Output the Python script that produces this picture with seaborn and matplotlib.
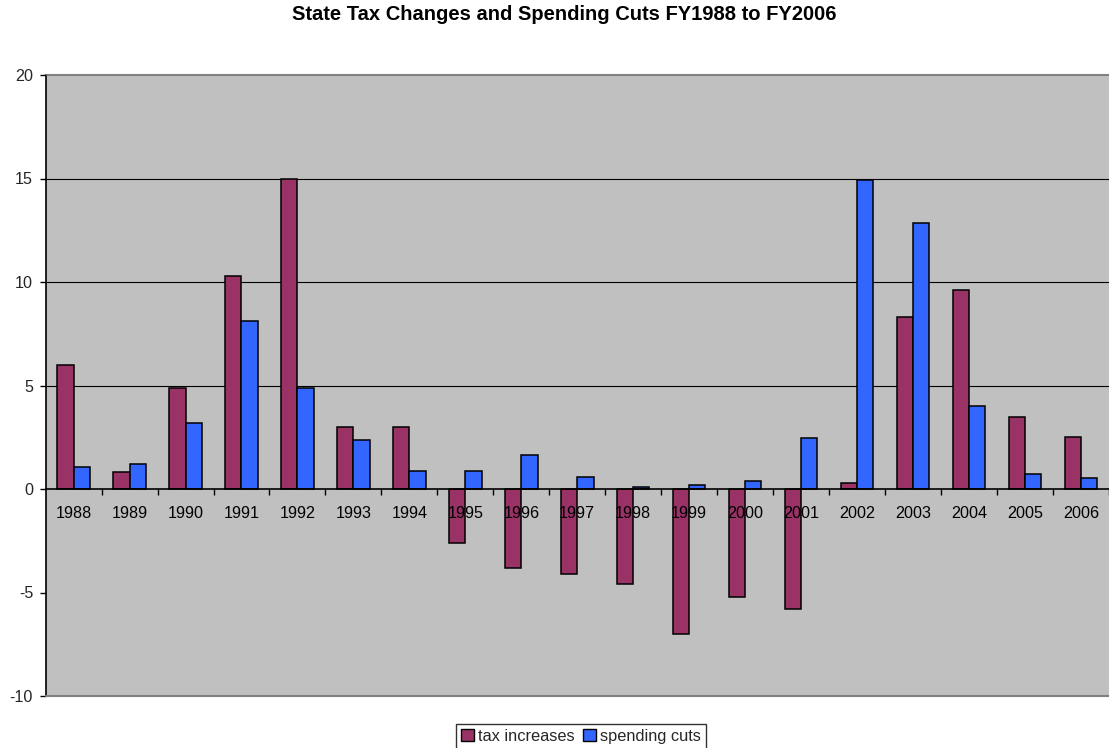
import matplotlib
matplotlib.use("Agg")
import matplotlib.pyplot as plt
from matplotlib.patches import Patch
from matplotlib.ticker import MultipleLocator
import seaborn as sns
import pandas as pd

years = [str(y) for y in range(1988, 2007)]
tax_increases = [6.0, 0.8, 4.9, 10.3, 15.0, 3.0, 3.0, -2.6, -3.8, -4.1,
                 -4.6, -7.0, -5.2, -5.8, 0.3, 8.3, 9.6, 3.5, 2.5]
spending_cuts = [1.05, 1.2, 3.2, 8.1, 4.9, 2.35, 0.88, 0.85, 1.65, 0.57,
                 0.08, 0.2, 0.37, 2.45, 14.95, 12.85, 4.0, 0.72, 0.52]
series_names = ["tax increases", "spending cuts"]
colors = ["#993366", "#3366FF"]
title = "State Tax Changes and Spending Cuts FY1988 to FY2006"

df = pd.DataFrame({
    "year": years * 2,
    "value": tax_increases + spending_cuts,
    "series": [series_names[0]] * len(years) + [series_names[1]] * len(years),
})

sns.set_style("white")
plt.rcParams["font.family"] = ["Liberation Sans", "DejaVu Sans"]
plt.rcParams["axes.unicode_minus"] = False

W, H = 1109, 748
fig = plt.figure(figsize=(W / 100, H / 100), dpi=100)
left_px, top_px, bottom_px = 45.6, 75, 696
ax = fig.add_axes([left_px / W, (H - bottom_px) / H,
                   (W - left_px) / W, (bottom_px - top_px) / H])
ax.set_facecolor("#C0C0C0")

sns.barplot(data=df, x="year", y="value", hue="series", order=years,
            hue_order=series_names, palette=colors, width=0.58,
            saturation=1, edgecolor="black", linewidth=1.1,
            legend=False, ax=ax, zorder=2)

ax.set_axisbelow(False)

cat_px = 56.5
ax.set_xlim(-0.5, -0.5 + (W - left_px) / cat_px)
ax.set_ylim(-10, 20)
ax.yaxis.set_major_locator(MultipleLocator(5))

for yv in [5, 10, 15]:
    ax.axhline(yv, color="black", lw=0.8, zorder=1)
ax.axhline(-10, color="#808080", lw=1.5, zorder=3, clip_on=False)

# spines
ax.spines["right"].set_visible(False)
ax.spines["top"].set_color("#808080")
ax.spines["top"].set_linewidth(1.5)
ax.spines["left"].set_color("black")
ax.spines["left"].set_linewidth(1.2)
ax.spines["bottom"].set_position(("data", 0))
ax.spines["bottom"].set_color("black")
ax.spines["bottom"].set_linewidth(1.2)

ax.set_xticks(range(len(years)))
ax.set_xticklabels(years)
ax.set_xticks([i + 0.5 for i in range(len(years))], minor=True)
ax.tick_params(axis="x", which="major", length=0, pad=12.5,
               labelsize=11.6, labelcolor="black", bottom=True)
ax.tick_params(axis="x", which="minor", length=4, width=1.0,
               direction="out", color="black", bottom=True)
ax.tick_params(axis="y", which="major", length=4, width=1.0,
               direction="out", color="black", pad=5, labelsize=11.6,
               left=True)
ax.set_xlabel("")
ax.set_ylabel("")

fig.text(564 / W, 1 - 15 / H, title, ha="center", va="center",
         fontsize=14.5, fontweight="bold", color="black")

handles = [Patch(facecolor=c, edgecolor="black", linewidth=1.0) for c in colors]
leg = fig.legend(handles, series_names, loc="upper center",
                 bbox_to_anchor=(581 / W, 1 - 724 / H), ncol=2,
                 fontsize=11.8, frameon=True, fancybox=False,
                 edgecolor="black", borderpad=0.3, handlelength=0.8,
                 handleheight=0.8, handletextpad=0.25, columnspacing=0.5,
                 borderaxespad=0)
leg.get_frame().set_linewidth(1.0)

fig.savefig("out.png", dpi=100)
